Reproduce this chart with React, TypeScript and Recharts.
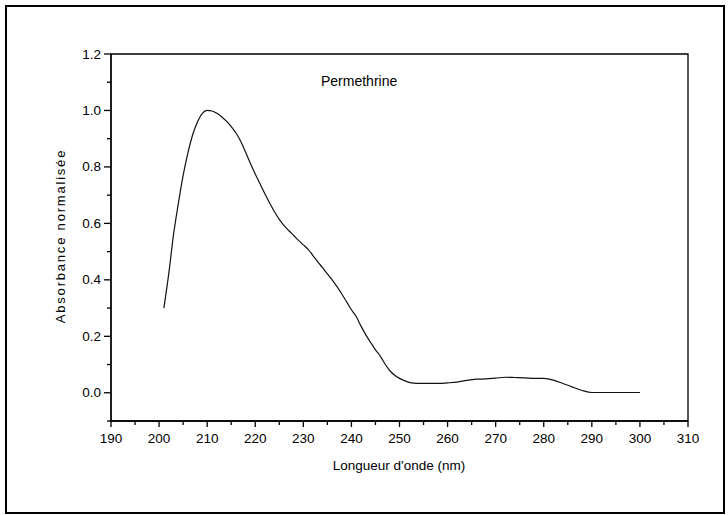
import React from 'react';
import { LineChart, Line, XAxis, YAxis, ReferenceArea } from 'recharts';

const wavelengths = [
  201, 202, 203, 204, 205, 206, 207, 208, 209, 210, 211, 212, 213, 214, 215, 216, 217, 218, 219, 220,
  221, 222, 223, 224, 225, 226, 227, 228, 229, 230, 231, 232, 233, 234, 235, 236, 237, 238, 239, 240,
  241, 242, 243, 244, 245, 246, 247, 248, 249, 250, 251, 252, 253, 254, 256, 258, 260, 262, 264, 266,
  268, 270, 272, 274, 276, 278, 280, 282, 284, 286, 288, 290, 295, 300,
];
const absorbance = [
  0.30, 0.42, 0.56, 0.67, 0.77, 0.85, 0.915, 0.96, 0.99, 1.0, 0.998, 0.99, 0.978, 0.962, 0.943, 0.92, 0.89, 0.852, 0.812, 0.775,
  0.74, 0.705, 0.672, 0.641, 0.614, 0.592, 0.574, 0.557, 0.54, 0.524, 0.508, 0.486, 0.464, 0.443, 0.421, 0.40, 0.376, 0.35, 0.322, 0.294,
  0.27, 0.236, 0.205, 0.178, 0.152, 0.13, 0.102, 0.078, 0.062, 0.051, 0.043, 0.037, 0.034, 0.033, 0.033, 0.033, 0.035, 0.038, 0.044, 0.048,
  0.049, 0.052, 0.055, 0.054, 0.053, 0.051, 0.051, 0.045, 0.033, 0.02, 0.008, 0.001, 0.001, 0.001,
];

const xTicks = [190, 195, 200, 205, 210, 215, 220, 225, 230, 235, 240, 245, 250, 255, 260, 265, 270, 275, 280, 285, 290, 295, 300, 305, 310];
const yTicks = [-0.1, 0.0, 0.1, 0.2, 0.3, 0.4, 0.5, 0.6, 0.7, 0.8, 0.9, 1.0, 1.1, 1.2];

const seriesName = 'Permethrine';
const xTitle = "Longueur d'onde (nm)";
const yTitle = 'Absorbance normalisée';

const data = wavelengths.map((w, i) => ({ w, a: absorbance[i] }));

const FONT = '"Liberation Sans", Arial, sans-serif';

const XTick = (props: any) => {
  const { x, y, payload } = props;
  const v = payload.value;
  const major = Math.round(v) % 10 === 0;
  return (
    <g>
      <line x1={x} x2={x} y1={y} y2={y + (major ? 6 : 4)} stroke="#000" strokeWidth={1.3} />
      {major && (
        <text x={x} y={y + 22} textAnchor="middle" fontSize={13.5} fontFamily={FONT} fill="#000">
          {v}
        </text>
      )}
    </g>
  );
};

const YTick = (props: any) => {
  const { x, y, payload } = props;
  const v = payload.value;
  const major = Math.round(v * 10) % 2 === 0;
  return (
    <g>
      <line x1={x - (major ? 7 : 4)} x2={x} y1={y} y2={y} stroke="#000" strokeWidth={1.3} />
      {major && (
        <text x={x - 10} y={y + 4.5} textAnchor="end" fontSize={13.5} fontFamily={FONT} fill="#000">
          {v.toFixed(1)}
        </text>
      )}
    </g>
  );
};

export default function App() {
  return (
    <div style={{ position: 'absolute', left: 0, top: 0, width: 728, height: 515, background: '#fff' }}>
      <div
        style={{
          position: 'absolute',
          left: 5,
          top: 5,
          width: 720,
          height: 509,
          border: '2px solid #000',
          boxSizing: 'border-box',
        }}
      />
      <div style={{ position: 'absolute', left: 0, top: 0 }}>
        <LineChart width={728} height={515} data={data} margin={{ top: 54, right: 40, bottom: 64, left: 0 }}>
          <XAxis
            dataKey="w"
            type="number"
            domain={[190, 310]}
            ticks={xTicks}
            interval={0}
            tickSize={0}
            tickMargin={0}
            tickLine={false}
            tick={<XTick />}
            axisLine={{ stroke: '#000', strokeWidth: 1.3 }}
            height={30}
          />
          <YAxis
            type="number"
            domain={[-0.1, 1.2]}
            ticks={yTicks}
            interval={0}
            tickSize={0}
            tickMargin={0}
            tickLine={false}
            tick={<YTick />}
            axisLine={{ stroke: '#000', strokeWidth: 1.3 }}
            width={111}
          />
          <ReferenceArea x1={190} x2={310} y1={-0.1} y2={1.2} fill="none" stroke="#000" strokeWidth={1.3} ifOverflow="visible" />
          <Line
            type="monotone"
            dataKey="a"
            stroke="#111"
            strokeWidth={1.2}
            dot={false}
            isAnimationActive={false}
          />
        </LineChart>
      </div>
      <div style={{ position: 'absolute', left: 321, top: 73, fontFamily: FONT, fontSize: 14, color: '#000', whiteSpace: 'nowrap' }}>
        {seriesName}
      </div>
      <div
        style={{
          position: 'absolute',
          left: 399,
          top: 465,
          transform: 'translate(-50%, -50%)',
          fontFamily: FONT,
          fontSize: 13.5,
          color: '#000',
          whiteSpace: 'nowrap',
        }}
      >
        {xTitle}
      </div>
      <div
        style={{
          position: 'absolute',
          left: 60,
          top: 236,
          transform: 'translate(-50%, -50%) rotate(-90deg)',
          fontFamily: FONT,
          fontSize: 13,
          letterSpacing: 1.8,
          color: '#000',
          whiteSpace: 'nowrap',
        }}
      >
        {yTitle}
      </div>
    </div>
  );
}
